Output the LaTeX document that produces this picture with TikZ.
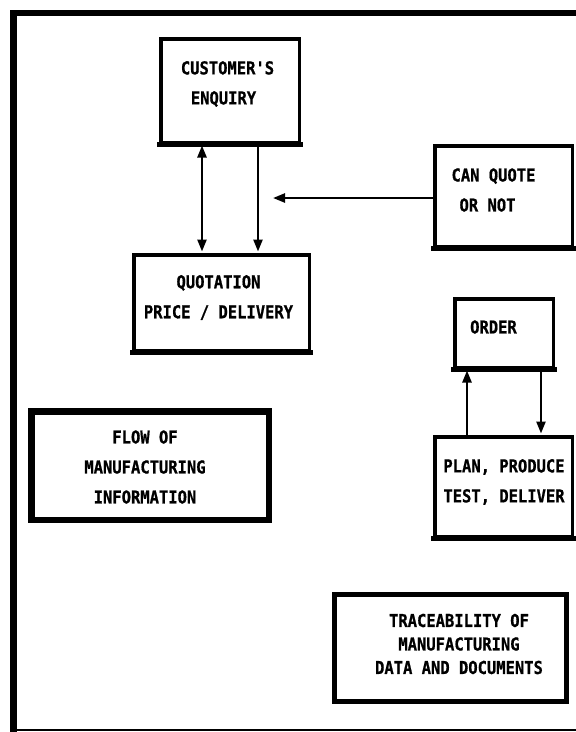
\documentclass[tikz,border=0pt]{standalone}
\usepackage{fontspec}
\newfontfamily\plotfont{DejaVu Sans Mono}[FakeStretch=0.87,FakeBold=0.8,Ligatures=ResetAll]
\usetikzlibrary{arrows.meta}

\tikzset{
  box/.style={draw, line width=3.5pt, inner sep=0pt},
  label/.style={font=\plotfont\bfseries\fontsize{17.8}{30}\selectfont, inner sep=0pt, align=center},
  link/.style={line width=2.4pt, -{Triangle[length=12pt,width=9pt]}, shorten >=1.5pt},
  twoway/.style={line width=2.4pt, {Triangle[length=12pt,width=9pt]}-{Triangle[length=12pt,width=9pt]}, shorten >=1.5pt, shorten <=1.5pt},
}

\begin{document}
\begin{tikzpicture}[x=1pt, y=-1pt]
  \useasboundingbox (0,0) rectangle (576,732);
  \fill[white] (0,0) rectangle (576,732);

  % outer frame: heavy top and left rules, light bottom rule
  \draw[line width=6.5pt, line join=miter] (576,13) -- (13.5,13) -- (13.5,732);
  \draw[line width=2pt] (13.5,729.5) -- (576,729.5);

  % boxes
  \node[box, minimum width=138.5pt, minimum height=103.5pt] (cust)  at (230,90.5)  {};
  \node[box, minimum width=137.5pt, minimum height=100.5pt] (canq)  at (503.5,196) {};
  \node[box, minimum width=175.5pt, minimum height=95.5pt]  (quote) at (221.5,302.5) {};
  \node[box, minimum width=98.5pt,  minimum height=68.5pt]  (order) at (504,333)   {};
  \node[box, minimum width=137.5pt, minimum height=99.5pt]  (plan)  at (503.5,486.5) {};
  \node[box, line width=6.5pt, minimum width=237.5pt, minimum height=108.5pt] (flow)  at (150,465.5) {};
  \node[box, line width=5pt,   minimum width=232pt,   minimum height=107pt]   (trace) at (450.5,648) {};

  % heavier lower edges of the small boxes
  \foreach \b in {cust,canq,quote,order,plan}
    \draw[line width=5pt] ([xshift=-1.75pt, yshift=-0.75pt]\b.south west) -- ([xshift=1.75pt, yshift=-0.75pt]\b.south east);

  % box texts
  \node[label, align=left] (cust-t)  at (227.5,84)  {CUSTOMER'S\\\hspace*{10pt}ENQUIRY};
  \node[label, align=left] (canq-t)  at (493.5,190) {CAN QUOTE\\\hspace*{8pt}OR NOT};
  \node[label]             (quote-t) at (218.5,297.5) {QUOTATION\\PRICE / DELIVERY};
  \node[label]             (order-t) at (493.5,327) {ORDER};
  \node[label, align=left] (plan-t)  at (504,482)   {PLAN, PRODUCE\\TEST, DELIVER};
  \node[label]             (flow-t)  at (145,467)   {FLOW OF\\MANUFACTURING\\INFORMATION};
  \node[label, font=\plotfont\bfseries\fontsize{17.8}{23.5}\selectfont] (trace-t) at (459,644)
       {TRACEABILITY OF\\MANUFACTURING\\DATA AND DOCUMENTS};

  % enquiry <-> quotation
  \draw[twoway] ([xshift=-28pt]cust.south) -- ([xshift=-28pt]cust.south |- quote.north);
  \draw[link]   ([xshift=28pt]cust.south)  -- ([xshift=28pt]cust.south |- quote.north);

  % can quote or not -> enquiry/quotation link
  \coordinate (qin) at (273,198);
  \draw[link, shorten >=0pt] (qin -| canq.west) -- (qin);

  % order <-> plan
  \draw[link] ([xshift=-37pt]order.south |- plan.north) -- ([xshift=-37pt]order.south);
  \draw[link] ([xshift=37pt]order.south) -- ([xshift=37pt]order.south |- plan.north);
\end{tikzpicture}
\end{document}
